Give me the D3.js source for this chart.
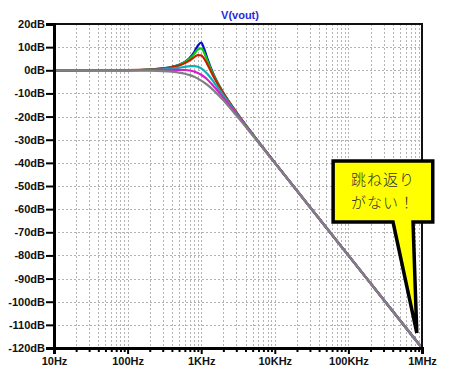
<!DOCTYPE html>
<html>
<head>
<meta charset="utf-8">
<script src="https://cdn.jsdelivr.net/npm/d3@7"></script>
<style>
  body { margin: 0; background: #fff; }
  svg { display: block; }
  .axis text { font-family: "Liberation Sans", Arial, sans-serif; font-weight: bold; font-size: 11px; fill: #111; }
</style>
</head>
<body>
<svg id="chart" width="450" height="374"></svg>
<script>
var freqs = [10, 100, 200, 300, 400, 500, 600, 700, 800, 900, 1000, 1100, 1200, 1500, 2000, 3000, 5000, 10000, 100000, 1000000];

// V(vout) in dB, one array per stepped run
var blueRun    = [0, 0.09, 0.34, 0.79, 1.45, 2.38, 3.64, 5.37, 7.71, 10.6, 12.0, 9.2, 5.5, -2.3, -9.7, -18.1, -27.6, -39.9, -80, -120];
var greenRun   = [0, 0.08, 0.33, 0.77, 1.41, 2.29, 3.47, 5.02, 6.97, 8.99, 9.5, 7.5, 4.5, -2.6, -9.8, -18.1, -27.6, -39.9, -80, -120];
var redRun     = [0, 0.08, 0.31, 0.71, 1.30, 2.08, 3.09, 4.30, 5.61, 6.58, 6.44, 4.97, 2.84, -3.2, -10.0, -18.2, -27.7, -39.9, -80, -120];
var cyanRun    = [0, 0.05, 0.20, 0.45, 0.77, 1.14, 1.51, 1.77, 1.81, 1.51, 0.83, -0.19, -1.41, -5.3, -10.9, -18.5, -27.8, -40.0, -80, -120];
var magentaRun = [0, 0.02, 0.07, 0.14, 0.20, 0.21, 0.12, -0.11, -0.53, -1.15, -1.94, -2.87, -3.88, -7.1, -11.8, -18.9, -27.9, -40.0, -80, -120];
var grayRun    = [0, -0.03, -0.14, -0.33, -0.61, -0.99, -1.49, -2.10, -2.80, -3.59, -4.44, -5.32, -6.23, -8.9, -13.0, -19.5, -28.1, -40.0, -80, -120];

var xTicks = [10, 100, 1000, 10000, 100000, 1000000];
var xTickLabels = ["10Hz", "100Hz", "1KHz", "10KHz", "100KHz", "1MHz"];
var yTicks = [20, 10, 0, -10, -20, -30, -40, -50, -60, -70, -80, -90, -100, -110, -120];

var title = "V(vout)";
var calloutLines = ["跳ね返り", "がない！"];

var svg = d3.select("#chart");
var plotLeft = 54, plotRight = 422, plotTop = 24, plotBottom = 348;

var x = d3.scaleLog().domain([10, 1e6]).range([plotLeft, plotRight]);
var y = d3.scaleLinear().domain([-120, 20]).range([plotBottom, plotTop]);

// minor decade positions 2..9
var minors = [];
xTicks.slice(0, -1).forEach(function (d) {
  for (var k = 2; k <= 9; k++) minors.push(d * k);
});

// grid
var grid = svg.append("g").attr("class", "grid");
grid.selectAll("line.vertical-grid")
  .data(minors.concat(xTicks.slice(1, -1)))
  .enter().append("line")
  .attr("class", "vertical-grid")
  .attr("x1", function (d) { return Math.round(x(d)) + 0.5; })
  .attr("x2", function (d) { return Math.round(x(d)) + 0.5; })
  .attr("y1", plotTop).attr("y2", plotBottom)
  .attr("stroke", "#b4b4b4").attr("stroke-width", 1)
  .attr("stroke-dasharray", "2,2")
  .attr("shape-rendering", "crispEdges");
grid.selectAll("line.horizontal-grid")
  .data(yTicks.slice(1, -1))
  .enter().append("line")
  .attr("class", "horizontal-grid")
  .attr("x1", plotLeft).attr("x2", plotRight)
  .attr("y1", function (d) { return Math.round(y(d)) + 0.5; })
  .attr("y2", function (d) { return Math.round(y(d)) + 0.5; })
  .attr("stroke", "#b4b4b4").attr("stroke-width", 1)
  .attr("stroke-dasharray", "2,2")
  .attr("shape-rendering", "crispEdges");

// curves
var runs = [
  { values: blueRun, color: "#0010c8" },
  { values: greenRun, color: "#10c810" },
  { values: redRun, color: "#c81e00" },
  { values: cyanRun, color: "#10b0b0" },
  { values: magentaRun, color: "#d020d0" },
  { values: grayRun, color: "#808080" }
];
var line = d3.line()
  .x(function (d) { return x(d[0]); })
  .y(function (d) { return y(d[1]); })
  .curve(d3.curveMonotoneX);

svg.append("g").selectAll("path.run")
  .data(runs)
  .enter().append("path")
  .attr("class", "run")
  .attr("d", function (r) { return line(d3.zip(freqs, r.values)); })
  .attr("fill", "none")
  .attr("stroke", function (r) { return r.color; })
  .attr("stroke-width", 2.2)
  .attr("stroke-linejoin", "round");

// frame
svg.append("rect")
  .attr("x", plotLeft).attr("y", plotTop)
  .attr("width", plotRight - plotLeft).attr("height", plotBottom - plotTop)
  .attr("fill", "none").attr("stroke", "#111").attr("stroke-width", 2);

// axes
var yAxis = svg.append("g")
  .attr("class", "axis axis--y")
  .attr("transform", "translate(" + plotLeft + ",0)")
  .call(d3.axisLeft(y).tickValues(yTicks).tickSize(8).tickPadding(1)
    .tickFormat(function (d) { return d + "dB"; }));
yAxis.select(".domain").attr("stroke", "#000").attr("stroke-width", 3);
yAxis.selectAll(".tick line").attr("stroke", "#000").attr("stroke-width", 2);

var xMinor = svg.append("g")
  .attr("class", "axis axis--minor")
  .attr("transform", "translate(0," + plotBottom + ")")
  .call(d3.axisBottom(x).tickValues(minors).tickSize(4).tickFormat(""));
xMinor.select(".domain").remove();
xMinor.selectAll(".tick line").attr("stroke", "#000").attr("stroke-width", 2);

var xAxis = svg.append("g")
  .attr("class", "axis axis--x")
  .attr("transform", "translate(0," + plotBottom + ")")
  .call(d3.axisBottom(x).tickValues(xTicks).tickSize(6).tickPadding(3)
    .tickFormat(function (d, i) { return xTickLabels[i]; }));
xAxis.select(".domain").attr("stroke", "#000").attr("stroke-width", 3);
xAxis.selectAll(".tick line").attr("stroke", "#000").attr("stroke-width", 2);

// title
svg.append("text")
  .attr("x", (plotLeft + plotRight) / 2 + 2).attr("y", 19)
  .attr("text-anchor", "middle")
  .attr("font-family", "Liberation Sans, Arial, sans-serif")
  .attr("font-weight", "bold").attr("font-size", 11)
  .attr("fill", "#2828e0")
  .text(title);

// callout, placed in data space
var boxF = [62000, 1400000], boxDb = [-39.2, -65.6];
var baseF = [404000, 755000], tip = [850000, -113.5];
var bx0 = x(boxF[0]), bx1 = x(boxF[1]), by0 = y(boxDb[0]), by1 = y(boxDb[1]);
var callout = d3.path();
callout.moveTo(bx0, by0);
callout.lineTo(bx1, by0);
callout.lineTo(bx1, by1);
callout.lineTo(x(baseF[1]), by1);
callout.lineTo(x(tip[0]), y(tip[1]));
callout.lineTo(x(baseF[0]), by1);
callout.lineTo(bx0, by1);
callout.closePath();
svg.append("path")
  .attr("d", callout.toString())
  .attr("fill", "#ffff00")
  .attr("stroke", "#000")
  .attr("stroke-width", 3.5)
  .attr("stroke-linejoin", "miter");

svg.append("g").selectAll("text")
  .data(calloutLines)
  .enter().append("text")
  .attr("x", (bx0 + bx1) / 2)
  .attr("y", function (d, i) { return by0 + 24 + i * 23; })
  .attr("text-anchor", "middle")
  .attr("font-family", "Noto Sans CJK JP, sans-serif")
  .attr("font-weight", 300)
  .attr("font-size", 15)
  .attr("letter-spacing", 1)
  .attr("fill", "#333")
  .text(function (d) { return d; });
</script>
</body>
</html>
